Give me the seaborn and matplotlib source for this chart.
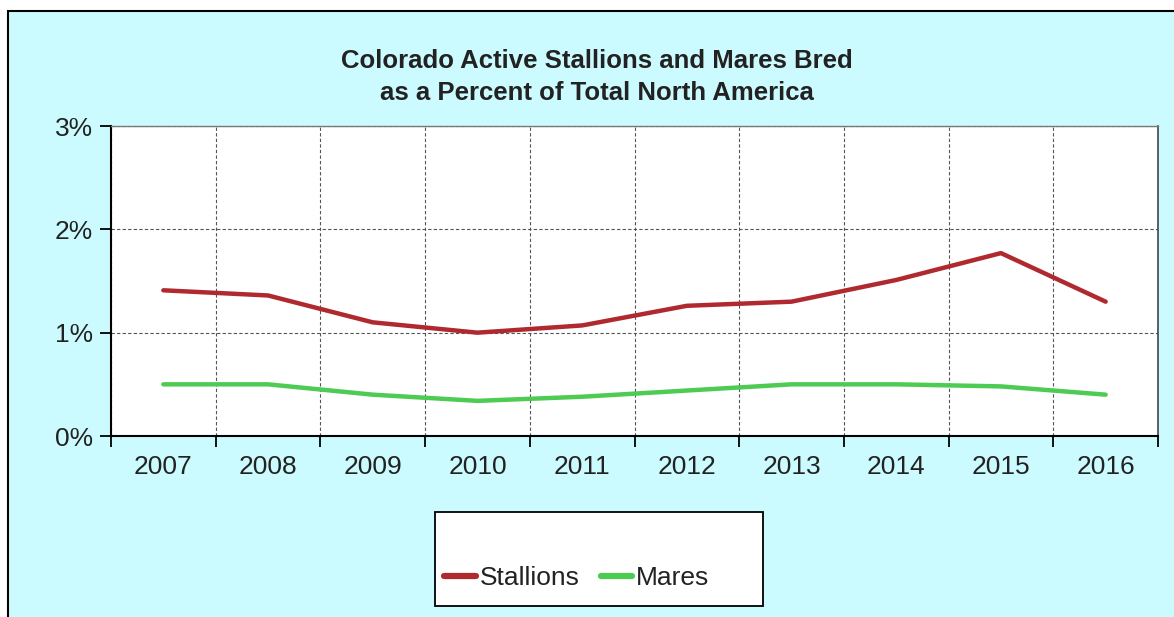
import numpy as np
import pandas as pd
import matplotlib
matplotlib.use('Agg')
import matplotlib.pyplot as plt
from matplotlib.patches import Rectangle
import seaborn as sns

# ── Data ────────────────────────────────────────────────────────
years = ['2007', '2008', '2009', '2010', '2011', '2012', '2013', '2014', '2015', '2016']
stallions = [1.41, 1.36, 1.10, 1.00, 1.07, 1.26, 1.30, 1.51, 1.77, 1.30]
mares = [0.50, 0.50, 0.40, 0.34, 0.38, 0.44, 0.50, 0.50, 0.48, 0.40]

BG = '#CCFBFF'
COLORS = {'Stallions': '#B0292F', 'Mares': '#4DCB52'}

sns.set_style('white')
plt.rcParams['font.family'] = ['Liberation Sans', 'DejaVu Sans']

df = pd.DataFrame({'Year': years * 2,
                   'Value': stallions + mares,
                   'Series': ['Stallions'] * len(years) + ['Mares'] * len(years)})
df['x'] = np.tile(np.arange(len(years)), 2)

fig = plt.figure(figsize=(11.74, 6.17), dpi=100)
fig.patch.set_facecolor('white')
# outer cyan panel with black border
fig.add_artist(Rectangle((8 / 1174, -0.01), 1.02, 1 - 11 / 617 + 0.01, transform=fig.transFigure,
                         facecolor=BG, edgecolor='black', linewidth=1.5, zorder=-10))

ax = fig.add_axes([111 / 1174, 1 - 436 / 617, (1158 - 111) / 1174, (436 - 126) / 617])
ax.set_facecolor('white')
sns.lineplot(data=df, x='x', y='Value', hue='Series', palette=COLORS, linewidth=3.2,
             ax=ax, legend=False, sort=False)

ax.set_xlim(-0.5, len(years) - 0.5)
ax.set_ylim(0, 3)
ax.set_xticks(np.arange(len(years)))
ax.set_xticklabels(years, fontsize=19, color='#222222')
ax.set_xticks(np.arange(-0.5, len(years), 1), minor=True)
ax.tick_params(axis='x', which='major', bottom=False, length=0, pad=14)
ax.tick_params(axis='x', which='minor', bottom=True, length=8, width=1.3,
               direction='out', color='black')
ax.set_yticks([0, 1, 2, 3])
ax.set_yticklabels(['0%', '1%', '2%', '3%'], fontsize=19, color='#222222')
ax.tick_params(axis='y', left=True, length=8, width=1.3, direction='out', color='black', pad=5)
ax.grid(False)
ax.grid(axis='x', which='minor', linestyle=(0, (3, 2)), color='#555555', linewidth=0.8)
ax.grid(axis='y', which='major', linestyle=(0, (3, 2)), color='#555555', linewidth=0.8)
ax.set_xlabel('')
ax.set_ylabel('')
for side in ['left', 'bottom']:
    ax.spines[side].set_color('black')
    ax.spines[side].set_linewidth(1.5)
ax.spines['right'].set_color('#444444')
ax.spines['right'].set_linewidth(1.2)
ax.spines['top'].set_color('#777777')
ax.spines['top'].set_linewidth(1.0)

fig.text(597 / 1174, 1 - 77 / 617,
         'Colorado Active Stallions and Mares Bred\nas a Percent of Total North America',
         ha='center', va='center', fontsize=18.5, fontweight='bold', color='#222222',
         linespacing=1.45)

# legend box
fig.add_artist(Rectangle((435 / 1174, 1 - 606 / 617), (763 - 435) / 1174, (606 - 512) / 617,
                         transform=fig.transFigure, facecolor='white', edgecolor='black',
                         linewidth=1.3, zorder=5))
handles = [plt.Line2D([], [], color=COLORS[k], linewidth=4.5) for k in ['Stallions', 'Mares']]
leg = fig.legend(handles, ['Stallions', 'Mares'], loc='center left',
                 bbox_to_anchor=(444 / 1174, 1 - 578 / 617), ncol=2, frameon=False,
                 fontsize=19, handlelength=1.2, handletextpad=0.15, columnspacing=0.8,
                 borderpad=0, borderaxespad=0)
leg.set_zorder(6)
for t in leg.get_texts():
    t.set_color('#222222')

fig.savefig('out.png', dpi=100, facecolor=fig.get_facecolor())
